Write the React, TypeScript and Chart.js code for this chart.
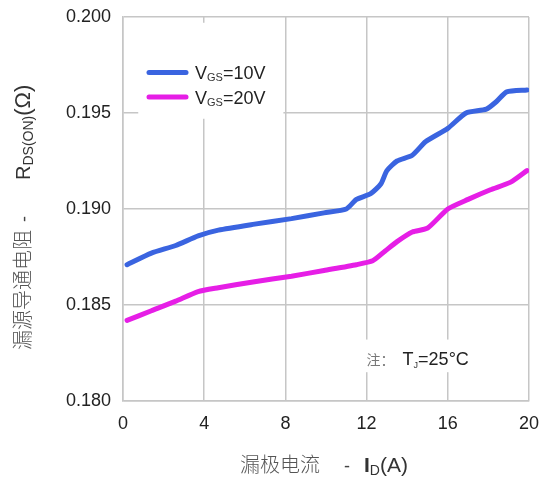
import React, { useEffect, useRef } from 'react';
import { Chart, registerables } from 'chart.js';

Chart.register(...registerables);

// ---- data ----
const xTickValues = [0, 4, 8, 12, 16, 20];
const yTickValues = [0.18, 0.185, 0.19, 0.195, 0.2];

const vgs10Current = [0.2, 1.4, 2.6, 3.7, 4.7, 6.4, 8.3, 9.9, 11.0, 11.5, 12.2, 12.7, 13.0, 13.5, 14.25, 14.9, 16.0, 16.9, 17.9, 18.4, 18.9, 19.9];
const vgs10Rds = [0.1871, 0.1877, 0.1881, 0.1886, 0.1889, 0.1892, 0.1895, 0.1898, 0.19, 0.1905, 0.1908, 0.1913, 0.192, 0.1925, 0.1928, 0.1935, 0.1942, 0.195, 0.1952, 0.1956, 0.1961, 0.1962];

const vgs20Current = [0.2, 1.4, 2.6, 3.7, 4.7, 6.4, 8.3, 9.9, 11.5, 12.3, 12.9, 13.5, 14.25, 15.0, 16.0, 17.0, 18.1, 19.1, 19.9];
const vgs20Rds = [0.1842, 0.1847, 0.1852, 0.1857, 0.1859, 0.1862, 0.1865, 0.1868, 0.1871, 0.1873, 0.1878, 0.1883, 0.1888, 0.189, 0.19, 0.1905, 0.191, 0.1914, 0.192];

const seriesVoltages = ['10V', '20V'];
const seriesColors = ['#3a64e0', '#e61ee6'];

const LATIN = '"Liberation Sans", Arial, sans-serif';
const CJK = '"Noto Sans CJK SC", sans-serif';

type Seg = { t: string; f: string; c: string; dy?: number; gap?: number };

function drawSegs(ctx: CanvasRenderingContext2D, segs: Seg[], x: number, y: number) {
  ctx.textAlign = 'left';
  ctx.textBaseline = 'alphabetic';
  for (const s of segs) {
    ctx.font = s.f;
    ctx.fillStyle = s.c;
    ctx.fillText(s.t, x, y + (s.dy || 0));
    x += ctx.measureText(s.t).width + (s.gap || 0);
  }
}

const decorPlugin = {
  id: 'decor',
  beforeDatasetsDraw(chart: any) {
    const ctx: CanvasRenderingContext2D = chart.ctx;
    const xs = chart.scales.x;
    const ys = chart.scales.y;
    ctx.save();
    ctx.fillStyle = '#ffffff';
    // legend box
    const lx = xs.getPixelForValue(0.75);
    const ly = ys.getPixelForValue(0.1997);
    const lx2 = xs.getPixelForValue(8.0);
    const ly2 = ys.getPixelForValue(0.1947);
    ctx.fillRect(lx, ly, lx2 - lx - 2, ly2 - ly);
    // annotation box
    const ax = xs.getPixelForValue(11.8);
    const ay = ys.getPixelForValue(0.1832);
    const ax2 = xs.getPixelForValue(17.9);
    const ay2 = ys.getPixelForValue(0.1815);
    ctx.fillRect(ax, ay, ax2 - ax, ay2 - ay);
    ctx.restore();
  },
  afterDraw(chart: any) {
    const ctx: CanvasRenderingContext2D = chart.ctx;
    const area = chart.chartArea;
    const xs = chart.scales.x;
    const ys = chart.scales.y;
    ctx.save();

    // legend
    [0, 1].forEach((i) => {
      const cy = 72.5 + i * 24.5;
      const x0 = area.left + 26;
      ctx.strokeStyle = seriesColors[i];
      ctx.lineWidth = 5;
      ctx.lineCap = 'round';
      ctx.beginPath();
      ctx.moveTo(x0, cy);
      ctx.lineTo(x0 + 37, cy);
      ctx.stroke();
      drawSegs(ctx, [
        { t: 'V', f: `18px ${LATIN}`, c: '#222' },
        { t: 'GS', f: `11px ${LATIN}`, c: '#333', dy: 2 },
        { t: '=' + seriesVoltages[i], f: `18px ${LATIN}`, c: '#222' },
      ], x0 + 46, cy + 6.5);
    });

    // annotation
    drawSegs(ctx, [
      { t: '注：', f: `14px ${CJK}`, c: '#777', gap: 8 },
      { t: 'T', f: `18px ${LATIN}`, c: '#222' },
      { t: 'J', f: `9px ${LATIN}`, c: '#333', dy: 3 },
      { t: '=25°C', f: `18px ${LATIN}`, c: '#222' },
    ], xs.getPixelForValue(12.0), ys.getPixelForValue(0.1822) + 6);

    // x title
    drawSegs(ctx, [
      { t: '漏极电流', f: `300 20px ${CJK}`, c: '#555', gap: 24 },
      { t: '-', f: `18px ${LATIN}`, c: '#444', gap: 14 },
      { t: 'I', f: `bold 21px ${LATIN}`, c: '#333' },
      { t: 'D', f: `14px ${LATIN}`, c: '#333', dy: 3 },
      { t: '(A)', f: `21px ${LATIN}`, c: '#333' },
    ], 240, 472);

    // y title (rotated, reads bottom to top)
    ctx.translate(30, 350);
    ctx.rotate(-Math.PI / 2);
    drawSegs(ctx, [
      { t: '漏源导通电阻', f: `300 20px ${CJK}`, c: '#555', gap: 8 },
      { t: '-', f: `18px ${LATIN}`, c: '#444', gap: 36 },
      { t: 'R', f: `20px ${LATIN}`, c: '#333' },
      { t: 'DS(ON)', f: `14px ${LATIN}`, c: '#333', dy: 3 },
      { t: '(Ω)', f: `22px ${LATIN}`, c: '#333' },
    ], 0, 0);
    ctx.restore();
  },
};

export default function App() {
  const ref = useRef<HTMLCanvasElement | null>(null);

  useEffect(() => {
    if (!ref.current) return;
    const gridColor = '#c6c6c6';
    const chart = new Chart(ref.current, {
      type: 'line',
      data: {
        datasets: [
          {
            label: 'VGS=' + seriesVoltages[0],
            data: vgs10Current.map((x, i) => ({ x, y: vgs10Rds[i] })),
            borderColor: seriesColors[0],
            backgroundColor: seriesColors[0],
            borderWidth: 5,
            pointRadius: 0,
            tension: 0.2,
            borderCapStyle: 'round',
            borderJoinStyle: 'round',
          },
          {
            label: 'VGS=' + seriesVoltages[1],
            data: vgs20Current.map((x, i) => ({ x, y: vgs20Rds[i] })),
            borderColor: seriesColors[1],
            backgroundColor: seriesColors[1],
            borderWidth: 5,
            pointRadius: 0,
            tension: 0.2,
            borderCapStyle: 'round',
            borderJoinStyle: 'round',
          },
        ],
      },
      options: {
        responsive: false,
        animation: false,
        events: [],
        layout: { padding: { left: 0, top: 17, right: 12, bottom: 0 } },
        plugins: { legend: { display: false }, tooltip: { enabled: false } },
        scales: {
          x: {
            type: 'linear',
            min: 0,
            max: 20,
            afterBuildTicks: (s: any) => { s.ticks = xTickValues.map((v) => ({ value: v })); },
            afterFit: (s: any) => { s.height = 76; s.paddingLeft = 0; s.paddingRight = 0; },
            ticks: {
              font: { family: LATIN, size: 18 },
              color: '#222',
              padding: 12,
              maxRotation: 0,
              autoSkip: false,
              callback: (v: any) => String(v),
            },
            grid: { color: gridColor, lineWidth: 1.5, drawTicks: false },
            border: { color: gridColor, width: 1.5 },
          },
          y: {
            type: 'linear',
            min: 0.18,
            max: 0.2,
            afterBuildTicks: (s: any) => { s.ticks = yTickValues.map((v) => ({ value: v })); },
            afterFit: (s: any) => { s.width = 123; s.paddingTop = 0; s.paddingBottom = 0; },
            ticks: {
              font: { family: LATIN, size: 18 },
              color: '#222',
              padding: 12,
              autoSkip: false,
              callback: (v: any) => Number(v).toFixed(3),
            },
            grid: { color: gridColor, lineWidth: 1.5, drawTicks: false },
            border: { color: gridColor, width: 1.5 },
          },
        },
      },
      plugins: [decorPlugin],
    } as any);
    return () => chart.destroy();
  }, []);

  return (
    <div style={{ position: 'absolute', left: 0, top: 0, width: 541, height: 477, background: '#fff' }}>
      <canvas ref={ref} width={541} height={477} style={{ display: 'block' }} />
    </div>
  );
}
